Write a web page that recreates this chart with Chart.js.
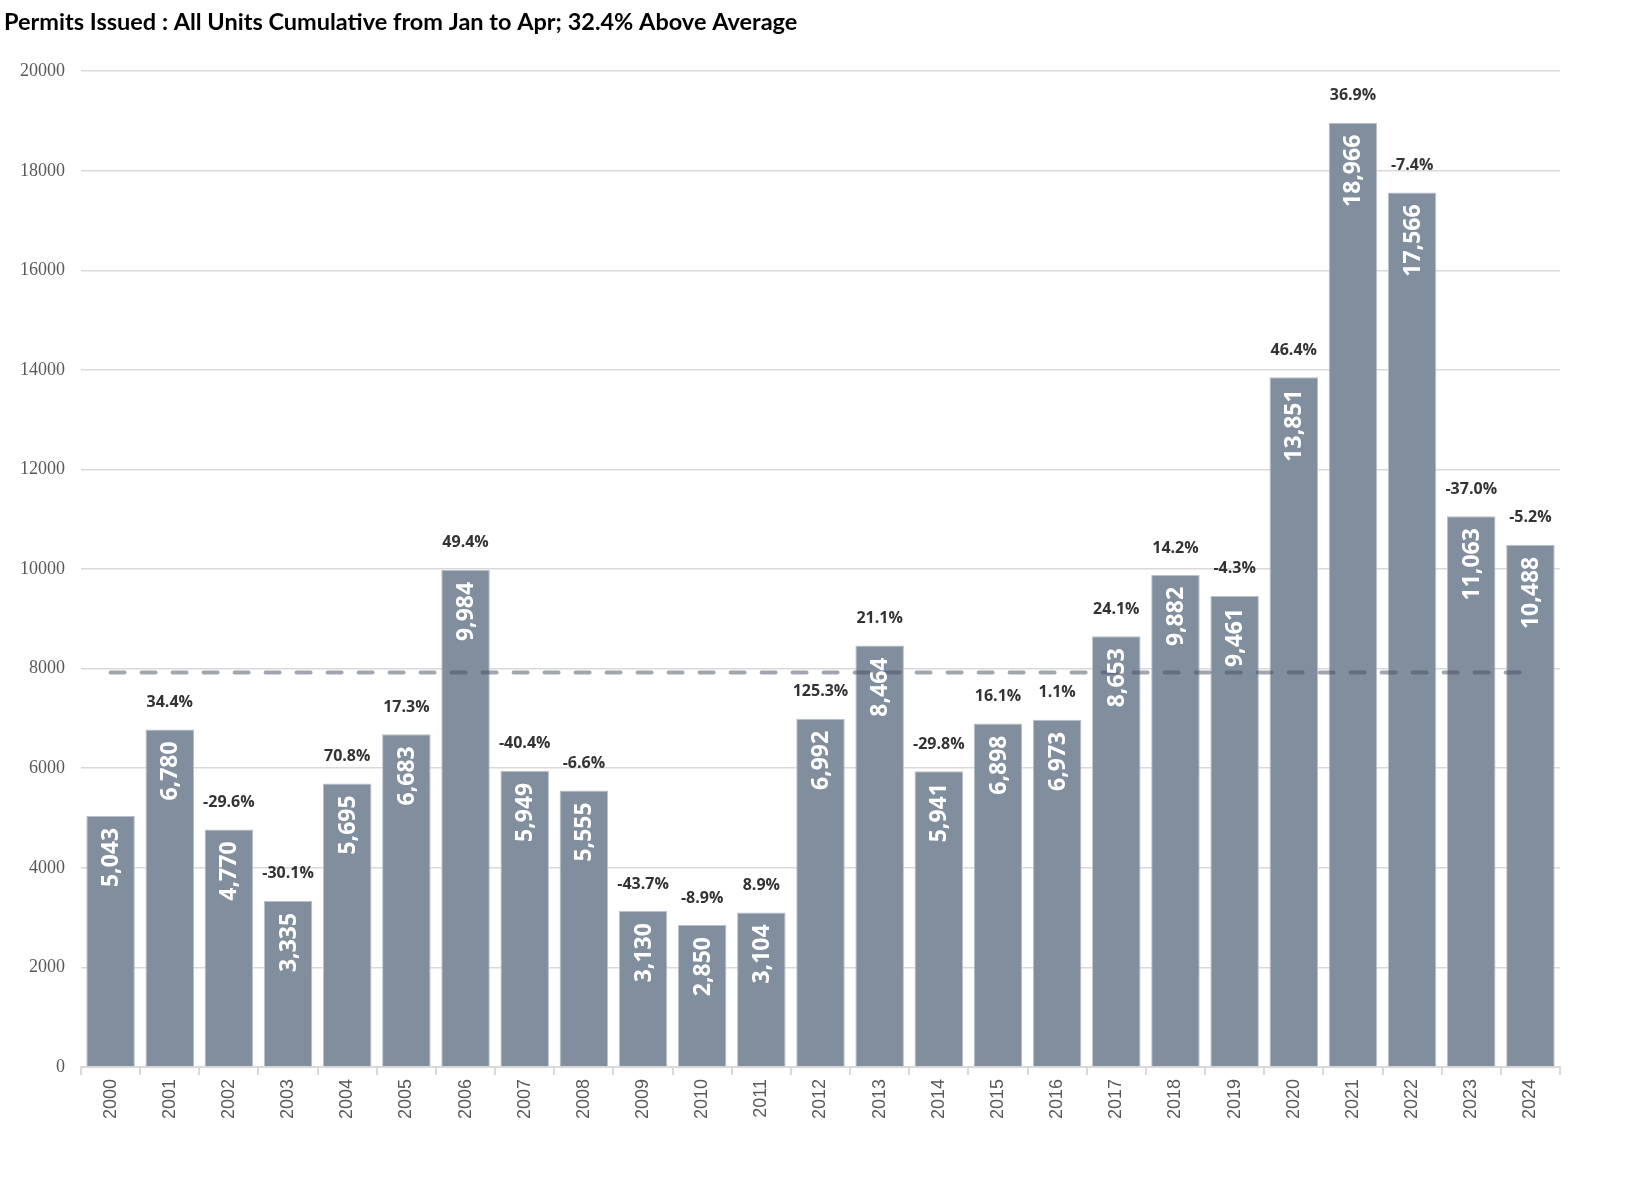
<!DOCTYPE html>
<html>
<head>
<meta charset="utf-8">
<script src="https://cdn.jsdelivr.net/npm/chart.js@4/dist/chart.umd.min.js"></script>
<style>
    html, body { margin: 0; padding: 0; background: #fff; }
    #wrap { width: 1635px; height: 1193px; }
</style>
</head>
<body>
<div id="wrap"><canvas id="permitsChart"></canvas></div>
<script>
// Chart data
const years = ['2000', '2001', '2002', '2003', '2004', '2005', '2006', '2007', '2008', '2009',
    '2010', '2011', '2012', '2013', '2014', '2015', '2016', '2017', '2018', '2019',
    '2020', '2021', '2022', '2023', '2024'];
const permits = [5043, 6780, 4770, 3335, 5695, 6683, 9984, 5949, 5555, 3130,
    2850, 3104, 6992, 8464, 5941, 6898, 6973, 8653, 9882, 9461,
    13851, 18966, 17566, 11063, 10488];
const changePct = [null, 34.4, -29.6, -30.1, 70.8, 17.3, 49.4, -40.4, -6.6, -43.7,
    -8.9, 8.9, 125.3, 21.1, -29.8, 16.1, 1.1, 24.1, 14.2, -4.3,
    46.4, 36.9, -7.4, -37.0, -5.2];
const averageValue = 7923;
const yTicks = [0, 2000, 4000, 6000, 8000, 10000, 12000, 14000, 16000, 18000, 20000];

// Function to format numbers with thousands separator
function formatNumber(num) {
    return num.toLocaleString('en-US');
}

// Plugin: dashed average line plus the labels on and above each bar
const barLabels = {
    id: 'barLabels',
    afterDatasetsDraw(chart) {
        const ctx = chart.ctx;
        const meta = chart.getDatasetMeta(0);
        const yScale = chart.scales.y;

        // average line, from first bar centre to last bar centre
        const yAvg = yScale.getPixelForValue(averageValue);
        ctx.save();
        ctx.strokeStyle = 'rgba(70, 80, 95, 0.5)';
        ctx.lineWidth = 4;
        ctx.lineCap = 'round';
        ctx.setLineDash([14, 17]);
        ctx.beginPath();
        ctx.moveTo(meta.data[0].x, yAvg);
        ctx.lineTo(meta.data[meta.data.length - 1].x, yAvg);
        ctx.stroke();
        ctx.restore();

        meta.data.forEach((bar, i) => {
            // value inside the bar, rotated
            ctx.save();
            ctx.translate(bar.x, bar.y + 12);
            ctx.rotate(-Math.PI / 2);
            ctx.fillStyle = '#ffffff';
            ctx.font = 'bold 23px "Open Sans"';
            ctx.textAlign = 'right';
            ctx.textBaseline = 'middle';
            ctx.fillText(formatNumber(permits[i]), 0, 1);
            ctx.restore();

            // change vs previous year above the bar
            if (changePct[i] !== null) {
                ctx.save();
                ctx.fillStyle = '#333333';
                ctx.font = 'bold 16px "Open Sans"';
                ctx.textAlign = 'center';
                ctx.textBaseline = 'middle';
                ctx.fillText(changePct[i].toFixed(1) + '%', bar.x, bar.y - 27);
                ctx.restore();
            }
        });
    }
};

const ctx = document.getElementById('permitsChart').getContext('2d');
new Chart(ctx, {
    type: 'bar',
    data: {
        labels: years,
        datasets: [{
            label: 'Permits',
            data: permits,
            backgroundColor: '#808e9e',
            borderColor: '#b9c0c9',
            borderWidth: 1,
            categoryPercentage: 1,
            barPercentage: 0.82
        }]
    },
    options: {
        responsive: true,
        maintainAspectRatio: false,
        animation: false,
        layout: {
            padding: { left: 4, right: 75, bottom: 70 }
        },
        plugins: {
            legend: { display: false },
            tooltip: { enabled: false },
            title: {
                display: true,
                text: 'Permits Issued : All Units Cumulative from Jan to Apr; 32.4% Above Average',
                align: 'start',
                color: '#000000',
                font: { family: 'Lato', size: 23.5, weight: 'bold' },
                padding: { top: 8, bottom: 35 }
            }
        },
        scales: {
            x: {
                grid: {
                    display: true,
                    drawOnChartArea: false,
                    drawTicks: true,
                    tickLength: 8,
                    color: '#d9d9d9',
                    lineWidth: 2
                },
                border: { display: true, color: '#d9d9d9', width: 2 },
                ticks: {
                    minRotation: 90,
                    maxRotation: 90,
                    color: '#595959',
                    padding: 4,
                    font: { family: '"Liberation Sans"', size: 18 }
                }
            },
            y: {
                min: 0,
                max: 20000,
                afterBuildTicks: axis => {
                    axis.ticks = yTicks.map(v => ({ value: v }));
                },
                grid: {
                    color: '#d9d9d9',
                    lineWidth: 1.5,
                    drawTicks: false
                },
                border: { display: false },
                ticks: {
                    color: '#595959',
                    padding: 16,
                    callback: value => String(value),
                    font: { family: '"Liberation Serif"', size: 18 }
                }
            }
        }
    },
    plugins: [barLabels]
});
</script>
</body>
</html>
